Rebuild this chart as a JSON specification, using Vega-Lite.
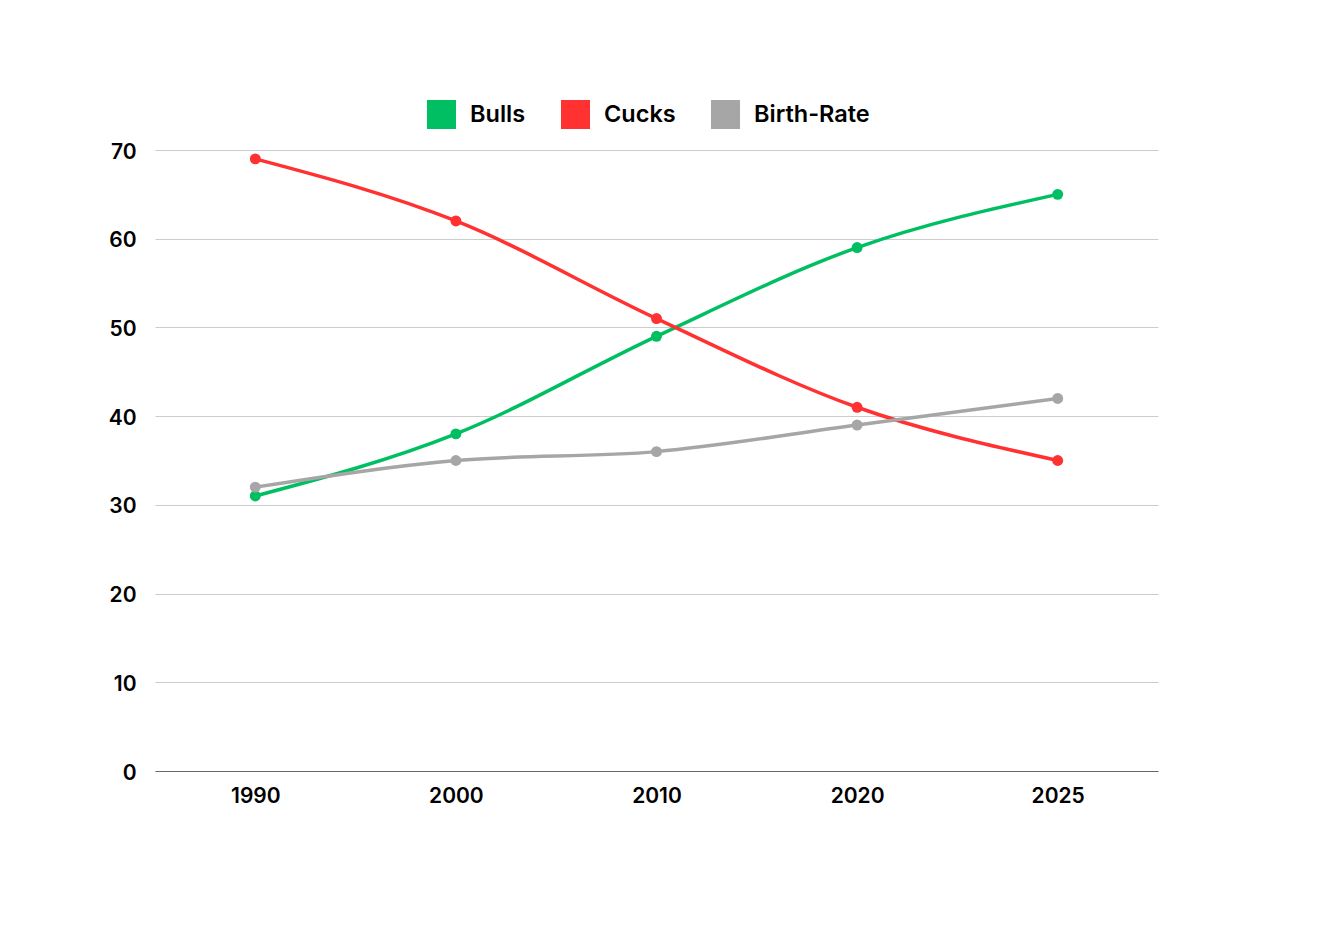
{
  "$schema": "https://vega.github.io/schema/vega-lite/v6.json",
  "autosize": {"type": "none"},
  "padding": {"left": 155, "top": 150, "right": 162, "bottom": 178},
  "width": 1003,
  "height": 621,
  "background": "white",
  "config": {
    "font": "Inter",
    "view": {"stroke": null}
  },
  "data": {
    "values": [
      {"year": "1990", "series": "Bulls", "value": 31},
      {"year": "2000", "series": "Bulls", "value": 38},
      {"year": "2010", "series": "Bulls", "value": 49},
      {"year": "2020", "series": "Bulls", "value": 59},
      {"year": "2025", "series": "Bulls", "value": 65},
      {"year": "1990", "series": "Cucks", "value": 69},
      {"year": "2000", "series": "Cucks", "value": 62},
      {"year": "2010", "series": "Cucks", "value": 51},
      {"year": "2020", "series": "Cucks", "value": 41},
      {"year": "2025", "series": "Cucks", "value": 35},
      {"year": "1990", "series": "Birth-Rate", "value": 32},
      {"year": "2000", "series": "Birth-Rate", "value": 35},
      {"year": "2010", "series": "Birth-Rate", "value": 36},
      {"year": "2020", "series": "Birth-Rate", "value": 39},
      {"year": "2025", "series": "Birth-Rate", "value": 42}
    ]
  },
  "encoding": {
    "x": {
      "field": "year", "type": "ordinal",
      "scale": {"type": "point", "padding": 0.5},
      "axis": {
        "title": null, "labelAngle": 0, "ticks": false,
        "domainColor": "#666666", "domainWidth": 1,
        "labelFontSize": 21, "labelFontWeight": 600, "labelColor": "#000000",
        "labelPadding": 14, "grid": false
      }
    },
    "y": {
      "field": "value", "type": "quantitative",
      "scale": {"domain": [0, 70]},
      "axis": {
        "title": null, "values": [0, 10, 20, 30, 40, 50, 60, 70],
        "ticks": false, "domain": false,
        "gridColor": "#CCCCCC", "gridWidth": 1,
        "labelFontSize": 21, "labelFontWeight": 600, "labelColor": "#000000",
        "labelPadding": 19, "labelOffset": 2
      }
    },
    "color": {
      "field": "series", "type": "nominal",
      "scale": {"domain": ["Bulls", "Cucks", "Birth-Rate"], "range": ["#00BF63", "#FF3131", "#A6A6A6"]},
      "legend": {
        "title": null, "orient": "none", "direction": "horizontal",
        "legendX": 272, "legendY": -50,
        "symbolType": "square", "symbolSize": 841, "symbolStrokeWidth": 0,
        "symbolOpacity": 1,
        "labelFontSize": 23.5, "labelFontWeight": 600, "labelColor": "#000000",
        "labelOffset": 14, "columnPadding": 35
      }
    }
  },
  "layer": [
    {"mark": {"type": "line", "interpolate": "monotone", "strokeWidth": 3.5}},
    {"mark": {"type": "point", "filled": true, "size": 120, "opacity": 1}}
  ]
}
